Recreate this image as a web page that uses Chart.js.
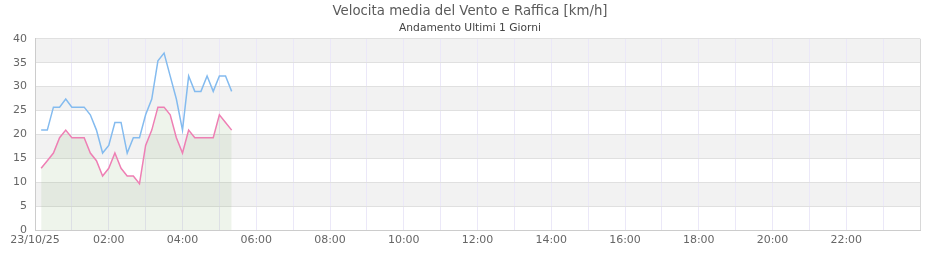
<!DOCTYPE html>
<html>
<head>
<meta charset="utf-8">
<script src="https://cdn.jsdelivr.net/npm/chart.js@4/dist/chart.umd.min.js"></script>
<style>
  html, body { margin: 0; padding: 0; background: #fff; }
  #wrap { width: 940px; height: 260px; position: relative; }
</style>
</head>
<body>
<div id="wrap"><canvas id="c"></canvas></div>
<script>
// ---- data ----
const titleText = "Velocita media del Vento e Raffica [km/h]";
const subtitleText = "Andamento Ultimi 1 Giorni";
const dateLabel = "23/10/25";
const times = ["00:10","00:20","00:30","00:40","00:50","01:00","01:10","01:20","01:30","01:40",
               "01:50","02:00","02:10","02:20","02:30","02:40","02:50","03:00","03:10","03:20",
               "03:30","03:40","03:50","04:00","04:10","04:20","04:30","04:40","04:50","05:00",
               "05:10","05:20"];
const gust = [20.9,20.9,25.7,25.7,27.4,25.7,25.7,25.7,24.1,20.9,
              16.1,17.7,22.5,22.5,16.1,19.3,19.3,24.1,27.4,35.4,
              37.0,32.2,27.4,20.9,32.2,29.0,29.0,32.2,29.0,32.2,
              32.2,29.0];
const avg = [12.9,14.5,16.1,19.3,20.9,19.3,19.3,19.3,16.1,14.5,
             11.3,12.9,16.1,12.9,11.3,11.3,9.7,17.7,20.9,25.7,
             25.7,24.1,19.3,16.1,20.9,19.3,19.3,19.3,19.3,24.1,
             22.5,20.9];
const yTicks = [0,5,10,15,20,25,30,35,40];
const grayBands = [[5,10],[15,20],[25,30],[35,40]];

function toMin(t){ const p = t.split(':'); return (+p[0])*60 + (+p[1]); }
const gustPts = times.map((t,i)=>({x: toMin(t), y: gust[i]}));
const avgPts = times.map((t,i)=>({x: toMin(t), y: avg[i]}));

const bandPlugin = {
  id: 'bands',
  beforeDraw(chart){
    const {ctx, chartArea: a, scales: {y}} = chart;
    ctx.save();
    ctx.fillStyle = '#f2f2f2';
    grayBands.forEach(([lo,hi])=>{
      const y1 = y.getPixelForValue(hi), y2 = y.getPixelForValue(lo);
      ctx.fillRect(a.left, y1, a.right - a.left, y2 - y1);
    });
    ctx.restore();
  },
  afterDraw(chart){
    const {ctx, chartArea: a} = chart;
    ctx.save();
    ctx.strokeStyle = '#d8d8d8';
    ctx.lineWidth = 1;
    ctx.beginPath();
    ctx.moveTo(a.right + 0.5, a.top);
    ctx.lineTo(a.right + 0.5, a.bottom);
    ctx.stroke();
    ctx.restore();
  }
};

Chart.defaults.font.family = "'DejaVu Sans', sans-serif";
new Chart(document.getElementById('c'), {
  type: 'line',
  data: {
    datasets: [
      { label: 'Raffica', data: gustPts, borderColor: '#84bbef', borderWidth: 1.5,
        pointRadius: 0, fill: false, tension: 0 },
      { label: 'Vento medio', data: avgPts, borderColor: '#ee7fb4', borderWidth: 1.5,
        pointRadius: 0, fill: 'origin', backgroundColor: 'rgba(144,180,120,0.15)', tension: 0 }
    ]
  },
  options: {
    responsive: true,
    maintainAspectRatio: false,
    animation: false,
    layout: { padding: { left: 0, right: 0, top: 0, bottom: 0 } },
    plugins: {
      legend: { display: false },
      tooltip: { enabled: false },
      title: { display: true, text: titleText, color: '#5a5a5a',
               font: { size: 13.3, weight: 'normal' }, padding: { top: 4, bottom: 2 } },
      subtitle: { display: true, text: subtitleText, color: '#444444',
               font: { size: 10.7, weight: 'normal' }, padding: { top: 0, bottom: 4 } }
    },
    scales: {
      x: {
        type: 'linear', min: 0, max: 1440,
        afterFit(s){ s.height = 30; },
        afterBuildTicks(s){ const t=[]; for (let v=0; v<=1440; v+=60) t.push({value:v}); s.ticks = t; },
        ticks: { autoSkip: false, maxRotation: 0, padding: 4, color: '#666666', font: { size: 11 },
          callback(v){
            if (v === 0) return dateLabel;
            if (v % 120 === 0 && v < 1440) { const h = v/60; return (h<10?'0':'')+h+':00'; }
            return '';
          } },
        grid: { color: '#ebe8f8', drawTicks: false },
        border: { color: '#cccccc' }
      },
      y: {
        min: 0, max: 40,
        afterFit(s){ s.width = 35; },
        afterBuildTicks(s){ s.ticks = yTicks.map(v=>({value:v})); },
        ticks: { padding: 8, color: '#666666', font: { size: 11 } },
        grid: { color: '#e0e0e0', drawTicks: false },
        border: { color: '#cccccc' }
      },
      yr: {
        position: 'right', min: 0, max: 40,
        afterFit(s){ s.width = 20; },
        ticks: { display: false },
        grid: { drawOnChartArea: false, drawTicks: false },
        border: { display: false }
      }
    }
  },
  plugins: [bandPlugin]
});
</script>
</body>
</html>
